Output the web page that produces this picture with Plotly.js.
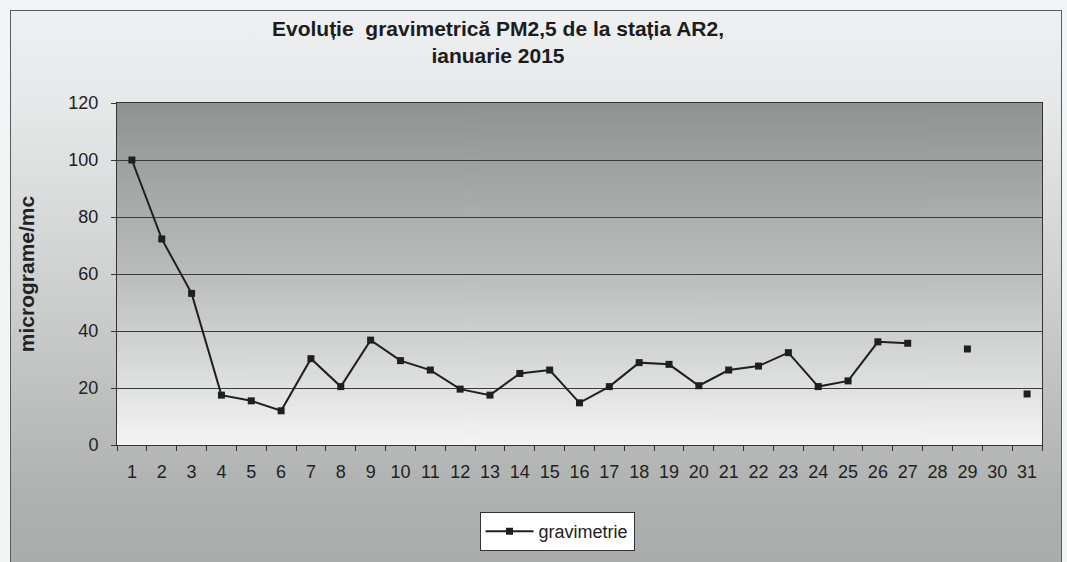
<!DOCTYPE html>
<html>
<head>
<meta charset="utf-8">
<script src="https://cdn.plot.ly/plotly-3.0.1.min.js"></script>
<style>
  html, body { margin:0; padding:0; background:#f3f4f6; }
  #wrap { position:relative; width:1067px; height:562px; overflow:hidden; background:#f3f4f6; }
  #frame { position:absolute; left:10px; top:10px; width:1050px; height:600px;
           border:1.5px solid #5a5c5e;
           background:linear-gradient(to bottom, #eef0f2 0%, #e4e6e7 18%, #cbcdcd 50%, #b0b2b2 80%, #a6a8a8 100%); }
  #chart { position:absolute; left:0; top:0; width:1067px; height:562px; }
</style>
</head>
<body>
<div id="wrap">
  <div id="frame"></div>
  <div id="chart"></div>
</div>
<script>
// Data
const days = ['1','2','3','4','5','6','7','8','9','10','11','12','13','14','15','16',
              '17','18','19','20','21','22','23','24','25','26','27','28','29','30','31'];
const gravimetrie = [100, 72.3, 53.2, 17.5, 15.5, 12, 30.3, 20.5, 36.8, 29.6, 26.3, 19.6, 17.5,
                     25.1, 26.3, 14.8, 20.5, 28.9, 28.3, 20.8, 26.3, 27.7, 32.4, 20.5, 22.5,
                     36.2, 35.7, null, 33.7, null, 17.9];
const yTicks = [0, 20, 40, 60, 80, 100, 120];

// Vertical gradient image for the plot area
function gradientURL() {
  const c = document.createElement('canvas');
  c.width = 4; c.height = 256;
  const g = c.getContext('2d');
  const gr = g.createLinearGradient(0, 0, 0, 256);
  gr.addColorStop(0, '#8e9291');
  gr.addColorStop(0.5, '#babdbc');
  gr.addColorStop(0.8, '#dcdedd');
  gr.addColorStop(1, '#f4f4f4');
  g.fillStyle = gr;
  g.fillRect(0, 0, 4, 256);
  return c.toDataURL();
}

const trace = {
  x: days,
  y: gravimetrie,
  type: 'scatter',
  mode: 'lines+markers',
  name: 'gravimetrie',
  connectgaps: false,
  line: { color: '#1e1f1f', width: 2 },
  marker: { symbol: 'square', size: 7, color: '#1e1f1f' }
};

const layout = {
  width: 1067, height: 562,
  margin: { l: 117, r: 25, t: 103, b: 117, autoexpand: false },
  paper_bgcolor: 'rgba(0,0,0,0)',
  plot_bgcolor: 'rgba(0,0,0,0)',
  font: { family: 'Liberation Sans, Arial, sans-serif', color: '#222' },
  title: {
    text: '<b>Evoluție  gravimetrică PM2,5 de la stația AR2,</b><br><b>ianuarie 2015</b>',
    font: { size: 21, color: '#1c1c1c', family: 'Liberation Sans, Arial, sans-serif' },
    x: 498 / 1067, xref: 'container', xanchor: 'center',
    y: 1 - 36 / 562, yref: 'container', yanchor: 'top'
  },
  xaxis: {
    type: 'category',
    range: [-0.5, days.length - 0.5],
    tickson: 'boundaries',
    ticks: 'outside', ticklen: 5, tickcolor: '#333',
    ticklabelstandoff: 10,
    tickangle: 0,
    automargin: false,
    showgrid: false,
    showline: true, linecolor: '#333', linewidth: 1, mirror: true,
    tickfont: { size: 18, color: '#222' },
    fixedrange: true
  },
  yaxis: {
    range: [0, 120],
    tickvals: yTicks,
    ticks: 'outside', ticklen: 5, tickcolor: '#333',
    ticklabelstandoff: 9,
    automargin: false,
    showgrid: true, gridcolor: '#3a3c3c', gridwidth: 1,
    showline: true, linecolor: '#333', linewidth: 1, mirror: true,
    zeroline: false,
    tickfont: { size: 18, color: '#222' },
    title: { text: '<b>micrograme/mc</b>',
             font: { size: 21, color: '#222', family: 'Liberation Sans, Arial, sans-serif' }, standoff: 28 },
    fixedrange: true
  },
  showlegend: true,
  legend: {
    x: (557 - 117) / 925, xref: 'paper', xanchor: 'center',
    y: (445 - 512) / 342, yref: 'paper', yanchor: 'top',
    bgcolor: '#ffffff', bordercolor: '#333', borderwidth: 1,
    font: { size: 18, color: '#222' },
    itemwidth: 48
  },
  images: [{
    source: gradientURL(),
    xref: 'paper', yref: 'paper',
    x: 0, y: 1, sizex: 1, sizey: 1,
    xanchor: 'left', yanchor: 'top',
    sizing: 'stretch', layer: 'below'
  }]
};

Plotly.newPlot('chart', [trace], layout, { displayModeBar: false, staticPlot: true });
</script>
</body>
</html>
